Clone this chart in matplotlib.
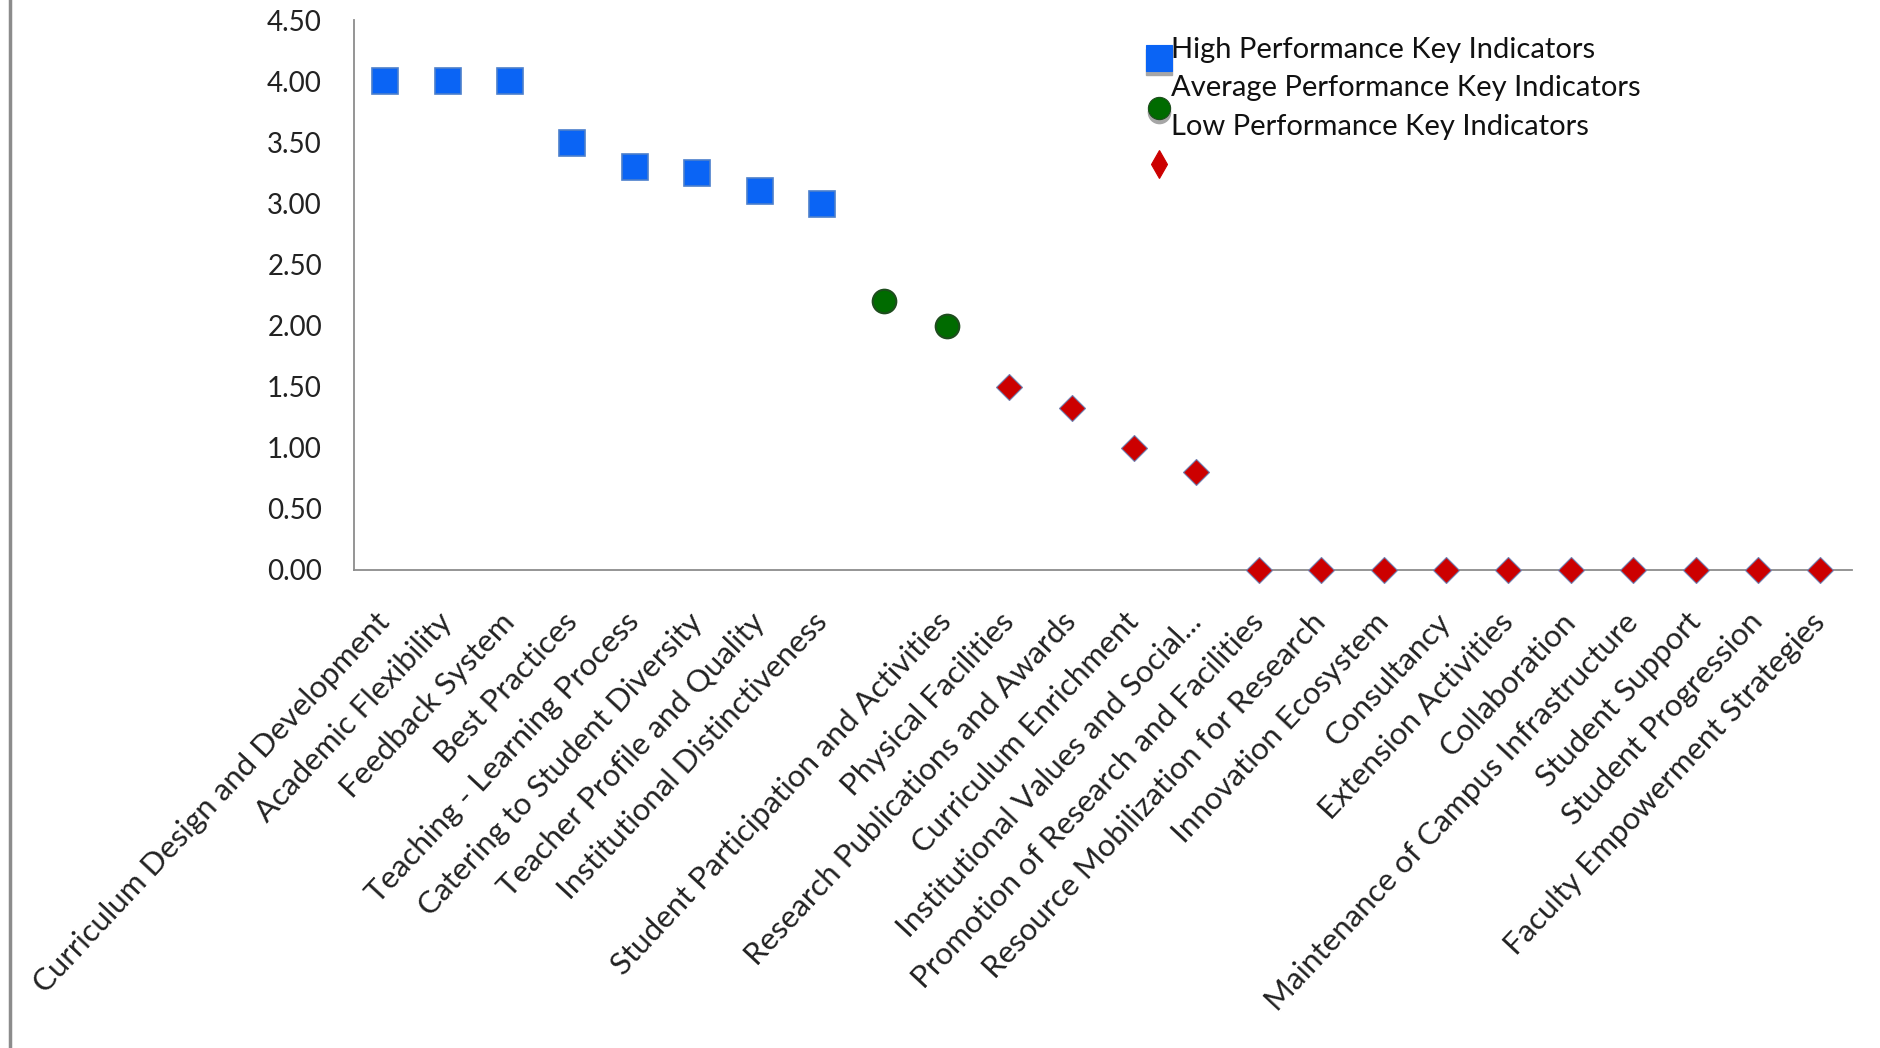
import matplotlib
matplotlib.use("Agg")
import matplotlib.pyplot as plt
from matplotlib.lines import Line2D
from matplotlib.transforms import ScaledTranslation

# ---------------- data ----------------
categories = [
    "Curriculum Design and Development",
    "Academic Flexibility",
    "Feedback System",
    "Best Practices",
    "Teaching - Learning Process",
    "Catering to Student Diversity",
    "Teacher Profile and Quality",
    "Institutional Distinctiveness",
    "",
    "Student Participation and Activities",
    "Physical Facilities",
    "Research Publications and Awards",
    "Curriculum Enrichment",
    "Institutional Values and Social...",
    "Promotion of Research and Facilities",
    "Resource Mobilization for Research",
    "Innovation Ecosystem",
    "Consultancy",
    "Extension Activities",
    "Collaboration",
    "Maintenance of Campus Infrastructure",
    "Student Support",
    "Student Progression",
    "Faculty Empowerment Strategies",
]
high_values = [4.00, 4.00, 4.00, 3.50, 3.30, 3.25, 3.10, 3.00]
average_values = [2.20, 2.00]
low_values = [1.50, 1.33, 1.00, 0.80, 0.00, 0.00, 0.00, 0.00, 0.00, 0.00, 0.00, 0.00, 0.00, 0.00]
series_names = [
    "High Performance Key Indicators",
    "Average Performance Key Indicators",
    "Low Performance Key Indicators",
]
y_ticks = [0.0, 0.5, 1.0, 1.5, 2.0, 2.5, 3.0, 3.5, 4.0, 4.5]
y_tick_labels = ["0.00", "0.50", "1.00", "1.50", "2.00", "2.50", "3.00", "3.50", "4.00", "4.50"]

# ---------------- style ----------------
plt.rcParams['font.family'] = ['Lato', 'DejaVu Sans']
W, H = 1881, 1048
fig = plt.figure(figsize=(W / 100, H / 100), dpi=100)
fig.patch.set_facecolor("white")

x_left, x_right = 354, 1851.6
y_top, y_bottom = 20.4, 570
ax = fig.add_axes([x_left / W, 1 - y_bottom / H, (x_right - x_left) / W, (y_bottom - y_top) / H])

n_high = len(high_values)
n_avg = len(average_values)
x_high = list(range(0, n_high))
x_avg = list(range(n_high, n_high + n_avg))
x_low = list(range(n_high + n_avg, n_high + n_avg + len(low_values)))

blue, green, red = "#0A64F5", "#006B00", "#CC0000"

ax.plot(x_high, high_values, linestyle="none", marker="s", markersize=19,
        markerfacecolor=blue, markeredgecolor="#4C7FCC", markeredgewidth=1.2,
        clip_on=False, zorder=3)
ax.plot(x_avg, average_values, linestyle="none", marker="o", markersize=17,
        markerfacecolor=green, markeredgecolor="#1E4D1E", markeredgewidth=1.5,
        clip_on=False, zorder=3)
ax.plot(x_low, low_values, linestyle="none", marker="D", markersize=13,
        markerfacecolor=red, markeredgecolor="#6F7FB0", markeredgewidth=0.8,
        clip_on=False, zorder=3)

ax.set_xlim(-0.5, len(categories) - 0.5)
ax.set_ylim(0, 4.5)
ax.set_yticks(y_ticks)
ax.set_yticklabels(y_tick_labels, fontsize=20, color="#222222")
ax.set_xticks(range(len(categories)))
ax.set_xticklabels(categories, fontsize=22.5, color="#222222",
                   rotation=47, ha="right", va="center", rotation_mode="anchor")
offset = ScaledTranslation(6 / 100, 0, fig.dpi_scale_trans)
for lab in ax.get_xticklabels():
    lab.set_transform(lab.get_transform() + offset)

ax.tick_params(axis="both", length=0)
ax.tick_params(axis="y", pad=23)
ax.tick_params(axis="x", pad=34)
for s in ["top", "right"]:
    ax.spines[s].set_visible(False)
for s in ["left", "bottom"]:
    ax.spines[s].set_color("#8C8C8C")
    ax.spines[s].set_linewidth(1.3)
ax.set_facecolor("none")

# ---------------- legend (Excel-like layout) ----------------
text_x = 1171 / W
text_ys = [50, 88, 127]
for name, ty in zip(series_names, text_ys):
    fig.text(text_x, 1 - ty / H, name, fontsize=21, color="#111111", ha="left", va="center")

mk_x = 1159 / W
legend_specs = [
    (58, "s", 19, blue, blue, True),
    (108, "o", 16, green, "#1E4D1E", True),
    (164, "d", 14, red, red, False),
]
for my, mk, ms, fc, ec, shadow in legend_specs:
    if shadow:
        fig.add_artist(Line2D([mk_x], [1 - (my + 4) / H], transform=fig.transFigure,
                              marker=mk, markersize=ms, markerfacecolor="#A6A6A6",
                              markeredgecolor="#A6A6A6", linestyle="none"))
    fig.add_artist(Line2D([mk_x], [1 - my / H], transform=fig.transFigure,
                          marker=mk, markersize=ms, markerfacecolor=fc,
                          markeredgecolor=ec, markeredgewidth=0.8, linestyle="none"))

# left border line of the chart area
fig.add_artist(Line2D([10 / W, 10 / W], [0, 1], transform=fig.transFigure,
                      color="#8C8C8C", linewidth=2.5))

fig.savefig("out.png", dpi=100, facecolor="white")
